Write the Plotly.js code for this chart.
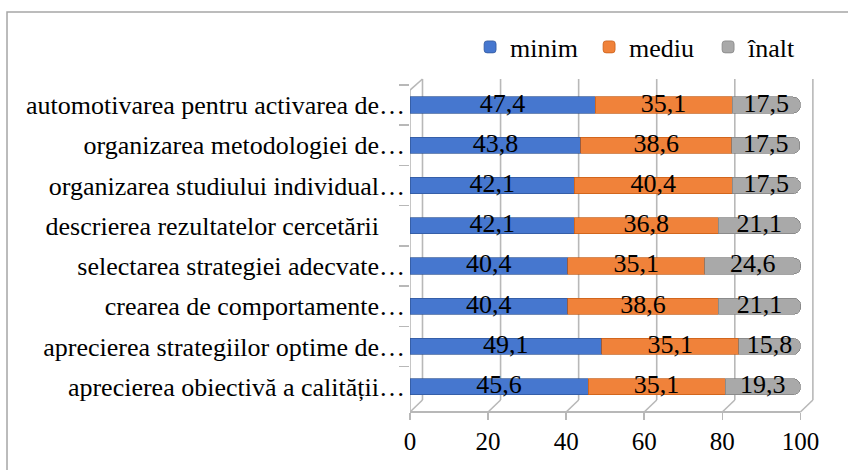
<!DOCTYPE html>
<html>
<head>
<meta charset="utf-8">
<script src="https://cdn.plot.ly/plotly-3.0.1.min.js"></script>
<style>html,body{margin:0;padding:0;background:#fff;}#chart{width:848px;height:470px;}</style>
</head>
<body>
<div id="chart"></div>
<script>
// Categories listed top to bottom as in the picture
const categories = [
  "automotivarea pentru activarea de…",
  "organizarea metodologiei de…",
  "organizarea studiului individual…",
  "descrierea rezultatelor cercetării\u00a0\u00a0\u00a0\u00a0",
  "selectarea strategiei adecvate…",
  "crearea de comportamente…",
  "aprecierea strategiilor optime de…",
  "aprecierea obiectivă a calității…"
];
const seriesNames = ["minim", "mediu", "înalt"];
const minim = [47.4, 43.8, 42.1, 42.1, 40.4, 40.4, 49.1, 45.6];
const mediu = [35.1, 38.6, 40.4, 36.8, 35.1, 38.6, 35.1, 35.1];
const inalt = [17.5, 17.5, 17.5, 21.1, 24.6, 21.1, 15.8, 19.3];
const xTicks = [0, 20, 40, 60, 80, 100];

const colors = ["#4677CF", "#F0823A", "#A9A9A9"];
const edge = ["#2F5597", "#C55A11", "#7F7F7F"];
const serif = "Liberation Serif, Times New Roman, serif";

const values = [minim, mediu, inalt];
const traces = values.map((vals, i) => ({
  type: "bar",
  orientation: "h",
  name: seriesNames[i],
  y: categories,
  x: vals,
  width: 0.4,
  marker: {color: colors[i], line: {color: edge[i], width: 0.7}, cornerradius: 7},
  hoverinfo: "skip"
}));

// data labels centred in each stacked segment
values.forEach((vals, i) => {
  const mids = vals.map((v, k) => {
    let start = 0;
    for (let j = 0; j < i; j++) start += values[j][k];
    return start + v / 2;
  });
  traces.push({
    type: "scatter", mode: "text", showlegend: false, hoverinfo: "skip",
    x: mids, y: categories,
    text: vals.map(v => v.toFixed(1).replace(".", ",")),
    textposition: "middle center",
    textfont: {family: serif, size: 26, color: "#000"},
    cliponaxis: false
  });
});

// 3D-style frame (back wall offset)
const dx = 3.2, dyBack = 0.0358, topBack = 0.994, topFront = 0.961;
const lineStyle = {color: "#b8b8b8", width: 1.6};
const shapes = [];
xTicks.forEach(v => {
  shapes.push({type: "line", xref: "x", yref: "paper", x0: v + dx, x1: v + dx, y0: dyBack, y1: topBack, line: lineStyle, layer: "below"});
  shapes.push({type: "line", xref: "x", yref: "paper", x0: v, x1: v + dx, y0: 0, y1: dyBack, line: lineStyle, layer: "below"});
});
shapes.push({type: "line", xref: "x", yref: "paper", x0: 0, x1: 100, y0: 0, y1: 0, line: {color: "#b8b8b8", width: 1.8}, layer: "below"});
shapes.push({type: "line", xref: "x", yref: "paper", x0: 0, x1: 0, y0: 0, y1: topFront, line: lineStyle, layer: "below"});
shapes.push({type: "line", xref: "x", yref: "paper", x0: 0, x1: dx, y0: topFront, y1: topBack, line: lineStyle, layer: "below"});
// outer chart border (only left and top edges fall inside the picture)
shapes.push({type: "rect", xref: "paper", yref: "paper", x0: -0.9926, x1: 1.12, y0: -0.22, y1: 1.194, line: {color: "#a6a6a6", width: 1.5}, fillcolor: "rgba(0,0,0,0)"});

const layout = {
  width: 848, height: 470,
  margin: {l: 410, r: 32, t: 77, b: 58, pad: 0},
  paper_bgcolor: "#fff", plot_bgcolor: "rgba(0,0,0,0)",
  barmode: "stack",
  font: {family: serif, size: 26, color: "#000"},
  showlegend: true,
  legend: {orientation: "h", x: 0.148, xanchor: "left", y: 1.0896, yanchor: "middle",
           traceorder: "normal", font: {family: serif, size: 26, color: "#000"},
           entrywidth: 74, itemclick: false},
  xaxis: {range: [0, 104], tickvals: xTicks, ticktext: xTicks.map(String), showgrid: false, zeroline: false,
          showline: false, ticks: "outside", ticklen: 7, tickcolor: "#b8b8b8", tickwidth: 1.5,
          tickfont: {family: serif, size: 25, color: "#000"}, fixedrange: true},
  yaxis: {type: "category", categoryorder: "array", categoryarray: categories,
          range: [7.63, -0.697], showgrid: false, zeroline: false, showline: false,
          ticks: "outside", tickson: "boundaries", ticklen: 10, tickcolor: "#b8b8b8", tickwidth: 1.5,
          ticklabelstandoff: 4,
          tickfont: {family: serif, size: 26, color: "#000"}, fixedrange: true},
  shapes: shapes
};

Plotly.newPlot("chart", traces, layout, {displayModeBar: false, staticPlot: true});
</script>
</body>
</html>
